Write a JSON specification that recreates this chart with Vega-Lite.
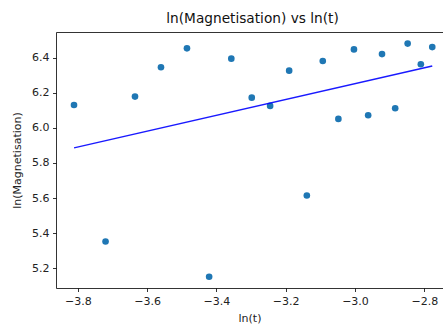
{
  "$schema": "https://vega.github.io/schema/vega-lite/v6.json",
  "width": 387,
  "height": 256,
  "autosize": {"type": "none"},
  "padding": {"left": 56, "top": 32, "right": 0, "bottom": 37},
  "config": {
    "font": "DejaVu Sans",
    "view": {"stroke": null},
    "axis": {
      "grid": false,
      "domainColor": "#000000",
      "domainWidth": 0.8,
      "tickColor": "#000000",
      "tickWidth": 0.8,
      "tickSize": 3.5,
      "labelFont": "DejaVu Sans",
      "labelFontSize": 11,
      "labelColor": "#222222",
      "labelPadding": 3.5,
      "titleFont": "DejaVu Sans",
      "titleFontSize": 11,
      "titleFontWeight": "normal",
      "titleColor": "#222222"
    }
  },
  "title": {
    "text": "ln(Magnetisation) vs ln(t)",
    "font": "DejaVu Sans",
    "fontSize": 13.7,
    "fontWeight": "normal",
    "color": "#111111",
    "anchor": "middle",
    "offset": 6,
    "dx": 3
  },
  "datasets": {
    "points": [
      {"lnt": -3.811, "lnm": 6.130},
      {"lnt": -3.720, "lnm": 5.353},
      {"lnt": -3.635, "lnm": 6.178},
      {"lnt": -3.560, "lnm": 6.345},
      {"lnt": -3.485, "lnm": 6.453},
      {"lnt": -3.421, "lnm": 5.152},
      {"lnt": -3.357, "lnm": 6.394},
      {"lnt": -3.298, "lnm": 6.172},
      {"lnt": -3.245, "lnm": 6.125},
      {"lnt": -3.190, "lnm": 6.326},
      {"lnt": -3.139, "lnm": 5.615},
      {"lnt": -3.093, "lnm": 6.381},
      {"lnt": -3.048, "lnm": 6.051},
      {"lnt": -3.003, "lnm": 6.447},
      {"lnt": -2.962, "lnm": 6.072},
      {"lnt": -2.922, "lnm": 6.420},
      {"lnt": -2.884, "lnm": 6.112},
      {"lnt": -2.848, "lnm": 6.480},
      {"lnt": -2.810, "lnm": 6.362},
      {"lnt": -2.777, "lnm": 6.460}
    ],
    "fit": [
      {"lnt": -3.811, "lnm": 5.886},
      {"lnt": -2.777, "lnm": 6.352}
    ]
  },
  "resolve": {"axis": {"x": "independent", "y": "independent"}},
  "layer": [
    {
      "data": {"name": "points"},
      "mark": {"type": "point", "filled": true, "size": 44, "color": "#1f77b4", "opacity": 1},
      "encoding": {
        "x": {
          "field": "lnt", "type": "quantitative",
          "scale": {"domain": [-3.863, -2.746], "nice": false, "zero": false},
          "axis": {"title": "ln(t)", "values": [-3.8, -3.6, -3.4, -3.2, -3.0, -2.8], "format": ".1f", "titlePadding": 6}
        },
        "y": {
          "field": "lnm", "type": "quantitative",
          "scale": {"domain": [5.088, 6.546], "nice": false, "zero": false},
          "axis": {"title": "ln(Magnetisation)", "values": [5.2, 5.4, 5.6, 5.8, 6.0, 6.2, 6.4], "format": ".1f", "titlePadding": 9}
        }
      }
    },
    {
      "data": {"name": "fit"},
      "mark": {"type": "line", "color": "#0000ff", "strokeWidth": 1.5, "opacity": 0.9},
      "encoding": {
        "x": {
          "field": "lnt", "type": "quantitative",
          "axis": {"orient": "top", "title": null, "labels": false, "ticks": false, "domain": true}
        },
        "y": {
          "field": "lnm", "type": "quantitative",
          "axis": null
        }
      }
    }
  ]
}
